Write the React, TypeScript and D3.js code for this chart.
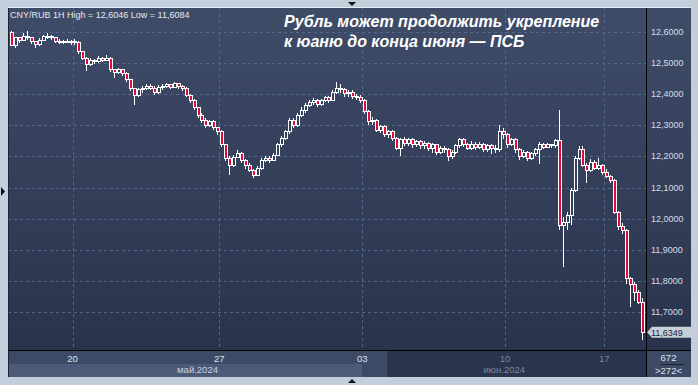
import React from "react";
import * as d3 from "d3";

const closes = [
  12.558, 12.581, 12.574, 12.587, 12.581, 12.568, 12.561, 12.574, 12.584, 12.587,
  12.581, 12.568, 12.571, 12.568, 12.571, 12.568, 12.565, 12.536, 12.516, 12.497,
  12.510, 12.504, 12.516, 12.510, 12.516, 12.478, 12.471, 12.478, 12.468, 12.446,
  12.420, 12.397, 12.414, 12.420, 12.426, 12.420, 12.407, 12.423, 12.426, 12.430,
  12.423, 12.433, 12.426, 12.420, 12.397, 12.381, 12.356, 12.333, 12.317, 12.301,
  12.311, 12.292, 12.279, 12.237, 12.195, 12.172, 12.198, 12.211, 12.188, 12.172,
  12.156, 12.140, 12.162, 12.188, 12.195, 12.188, 12.204, 12.237, 12.259, 12.279,
  12.317, 12.301, 12.333, 12.349, 12.365, 12.372, 12.381, 12.368, 12.381, 12.388,
  12.381, 12.407, 12.420, 12.414, 12.401, 12.407, 12.394, 12.391, 12.381, 12.343,
  12.311, 12.317, 12.285, 12.295, 12.269, 12.279, 12.259, 12.227, 12.253, 12.243,
  12.253, 12.237, 12.247, 12.234, 12.243, 12.227, 12.237, 12.214, 12.227, 12.221,
  12.201, 12.214, 12.234, 12.253, 12.237, 12.227, 12.240, 12.230, 12.237, 12.221,
  12.234, 12.227, 12.221, 12.279, 12.269, 12.237, 12.253, 12.221, 12.201, 12.214,
  12.195, 12.208, 12.221, 12.237, 12.230, 12.237, 12.234, 12.250, 11.979, 11.989,
  12.011, 12.092, 12.195, 12.221, 12.172, 12.156, 12.182, 12.162, 12.172, 12.150,
  12.137, 12.124, 12.021, 11.976, 11.963, 11.809, 11.787, 11.764, 11.732, 11.6349,
];

const highs = [
  12.6046, 12.585, 12.583, 12.596, 12.603, 12.585, 12.572, 12.580, 12.590, 12.598,
  12.590, 12.584, 12.577, 12.574, 12.576, 12.574, 12.577, 12.570, 12.540, 12.520,
  12.516, 12.513, 12.522, 12.520, 12.525, 12.520, 12.480, 12.485, 12.482, 12.472,
  12.450, 12.420, 12.420, 12.426, 12.433, 12.432, 12.425, 12.430, 12.434, 12.436,
  12.434, 12.440, 12.436, 12.430, 12.422, 12.400, 12.385, 12.360, 12.340, 12.322,
  12.318, 12.316, 12.295, 12.285, 12.240, 12.200, 12.205, 12.220, 12.215, 12.192,
  12.178, 12.160, 12.168, 12.194, 12.203, 12.200, 12.210, 12.242, 12.266, 12.285,
  12.324, 12.325, 12.340, 12.358, 12.372, 12.380, 12.388, 12.384, 12.386, 12.394,
  12.395, 12.412, 12.440, 12.432, 12.420, 12.415, 12.412, 12.400, 12.398, 12.386,
  12.348, 12.326, 12.320, 12.302, 12.300, 12.285, 12.284, 12.262, 12.258, 12.262,
  12.260, 12.258, 12.254, 12.252, 12.250, 12.248, 12.242, 12.240, 12.232, 12.234,
  12.226, 12.220, 12.240, 12.260, 12.258, 12.244, 12.250, 12.248, 12.246, 12.242,
  12.240, 12.240, 12.236, 12.300, 12.290, 12.275, 12.260, 12.258, 12.226, 12.220,
  12.218, 12.214, 12.228, 12.245, 12.242, 12.242, 12.240, 12.256, 12.349, 12.005,
  12.020, 12.100, 12.200, 12.235, 12.232, 12.180, 12.192, 12.190, 12.195, 12.176,
  12.160, 12.140, 12.128, 12.025, 11.985, 11.966, 11.812, 11.795, 11.770, 11.745,
];

const lows = [
  12.555, 12.550, 12.565, 12.570, 12.575, 12.560, 12.549, 12.556, 12.570, 12.578,
  12.575, 12.564, 12.561, 12.563, 12.565, 12.558, 12.558, 12.530, 12.510, 12.475,
  12.490, 12.498, 12.500, 12.504, 12.506, 12.470, 12.452, 12.465, 12.460, 12.440,
  12.410, 12.365, 12.390, 12.405, 12.412, 12.412, 12.397, 12.400, 12.415, 12.420,
  12.418, 12.420, 12.418, 12.410, 12.390, 12.372, 12.350, 12.325, 12.308, 12.292,
  12.295, 12.285, 12.270, 12.230, 12.185, 12.140, 12.165, 12.195, 12.180, 12.160,
  12.150, 12.132, 12.136, 12.158, 12.183, 12.180, 12.185, 12.200, 12.230, 12.252,
  12.272, 12.292, 12.295, 12.328, 12.340, 12.358, 12.365, 12.360, 12.362, 12.375,
  12.372, 12.378, 12.402, 12.404, 12.392, 12.392, 12.385, 12.380, 12.372, 12.335,
  12.300, 12.300, 12.278, 12.275, 12.262, 12.260, 12.250, 12.220, 12.200, 12.235,
  12.232, 12.228, 12.230, 12.225, 12.225, 12.218, 12.210, 12.205, 12.208, 12.210,
  12.185, 12.192, 12.208, 12.228, 12.230, 12.220, 12.222, 12.222, 12.225, 12.214,
  12.215, 12.208, 12.212, 12.215, 12.255, 12.228, 12.232, 12.212, 12.190, 12.195,
  12.186, 12.188, 12.200, 12.175, 12.225, 12.226, 12.228, 12.228, 11.965, 11.845,
  11.965, 11.980, 12.085, 12.190, 12.165, 12.115, 12.150, 12.155, 12.158, 12.140,
  12.130, 12.115, 12.015, 11.965, 11.950, 11.790, 11.716, 11.735, 11.725, 11.6084,
];

const firstOpen = 12.6;

const yTicks = [12.6, 12.5, 12.4, 12.3, 12.2, 12.1, 12.0, 11.9, 11.8, 11.7];
const dateLabels = ["20", "27", "03", "10", "17"];
const dateIdx = [15.5, 52.5, 88.5, 124.5, 149.5];
const monthLabels = ["май.2024", "июн.2024"];
const monthIdx = [47, 124.3];
const headerText = "CNY/RUB 1H High = 12,6046 Low = 11,6084";
const titleLines = ["Рубль может продолжить укрепление", "к юаню до конца июня — ПСБ"];
const lastPrice = 11.6349;
const barsTotal = "672";
const barsVisible = ">272<";

const W = 698;
const H = 385;
const PL = 8;
const PR = 646;
const PT = 8;
const PB = 351;
const AXR = 691;
const BB = 377;

const FONT = "'Liberation Sans', Arial, sans-serif";
const RED = "#e3093f";

export default function App() {
  const x = d3.scaleLinear().domain([0, closes.length - 1]).range([11, 642]);
  const y = d3.scaleLinear().domain([11.7, 12.6]).range([312, 32]);
  const fmt = (v: number) => d3.format(".4f")(v).replace(".", ",");

  const candles = closes.map((c, i) => {
    const o = i === 0 ? firstOpen : closes[i - 1];
    return { o, c, h: highs[i], l: lows[i], i };
  });

  const split1 = (x(dateIdx[2]) + x(dateIdx[2] + 1)) / 2 - 2; // ~362
  const split2 = x(94.5); // ~386

  return (
    <svg
      width={W}
      height={H}
      style={{ position: "absolute", left: 0, top: 0, display: "block" }}
      fontFamily={FONT}
    >
      <defs>
        <linearGradient id="bg" x1="0" y1="0" x2="0" y2="1">
          <stop offset="0" stopColor="#3f4c68" />
          <stop offset="1" stopColor="#29334c" />
        </linearGradient>
        <clipPath id="plotClip">
          <rect x={PL} y={PT} width={PR - PL} height={PB - PT} />
        </clipPath>
      </defs>
      <rect x={0} y={0} width={W} height={H} fill="#c3cedc" />
      {/* plot + right axis background */}
      <rect x={PL} y={PT} width={AXR - PL} height={PB - PT} fill="url(#bg)" />
      {/* bottom axis */}
      <rect x={PL} y={PB} width={PR - PL} height={BB - PB} fill="#2a344e" />
      <rect x={PL} y={PB} width={split2 - PL} height={13} fill="#3d4a66" />
      <rect x={PL} y={PB + 13} width={split2 - PL} height={BB - PB - 13} fill="#3d4a66" />
      <rect x={PL} y={PB + 13} width={split1 - PL} height={BB - PB - 13} fill="#4b5a76" />
      <line x1={split2 + 0.5} x2={split2 + 0.5} y1={PB} y2={BB} stroke="#46536e" />
      <rect x={PR} y={PB} width={AXR - PR} height={BB - PB} fill="#3d4a66" />

      {/* grid */}
      <g stroke="#56658a" strokeWidth={1} strokeDasharray="3,3" shapeRendering="crispEdges">
        {yTicks.map((t) => (
          <line key={"h" + t} x1={PL} x2={PR} y1={Math.round(y(t)) + 0.5} y2={Math.round(y(t)) + 0.5} />
        ))}
        {dateIdx.map((d) => (
          <line key={"v" + d} x1={Math.round(x(d)) + 0.5} x2={Math.round(x(d)) + 0.5} y1={PT} y2={PB} />
        ))}
      </g>

      {/* candles */}
      <g clipPath="url(#plotClip)" shapeRendering="crispEdges">
        {candles.map((d) => {
          const cx = Math.round(x(d.i));
          const top = y(Math.max(d.o, d.c));
          const bot = y(Math.min(d.o, d.c));
          const down = d.c < d.o;
          return (
            <g key={d.i}>
              <line x1={cx + 0.5} x2={cx + 0.5} y1={y(d.h)} y2={y(d.l)} stroke="#ffffff" strokeWidth={1} />
              <rect
                x={cx - 1}
                y={top}
                width={3}
                height={Math.max(1, bot - top)}
                fill={down ? RED : "#34405a"}
                stroke="#ffffff"
                strokeWidth={1}
              />
            </g>
          );
        })}
      </g>

      {/* axis frame lines */}
      <line x1={PL + 0.5} x2={PL + 0.5} y1={PT} y2={BB} stroke="#1c2333" />
      <line x1={PL} x2={AXR} y1={PT - 0.5} y2={PT - 0.5} stroke="#e6ecf3" />
      <line x1={PR + 0.5} x2={PR + 0.5} y1={PT} y2={BB} stroke="#000000" />
      <line x1={PL} x2={AXR} y1={PB - 0.5} y2={PB - 0.5} stroke="#000000" />

      {/* right axis labels */}
      {yTicks.map((t) => (
        <text key={"t" + t} x={651} y={y(t) + 3} fontSize={9} fill="#d4deea">
          {fmt(t)}
        </text>
      ))}

      {/* last price tag */}
      <path
        d={`M${PR + 1},${y(lastPrice)} L${PR + 6},${y(lastPrice) - 5.5} L${AXR + 3},${y(lastPrice) - 5.5} L${AXR + 3},${y(lastPrice) + 5.5} L${PR + 6},${y(lastPrice) + 5.5} Z`}
        fill="#c8ced8"
      />
      <text x={651} y={y(lastPrice) + 3.5} fontSize={9} fill="#1e2638">
        {fmt(lastPrice)}
      </text>

      {/* bottom axis labels */}
      {dateLabels.map((lab, k) => (
        <text
          key={lab}
          x={x(dateIdx[k])}
          y={362}
          fontSize={9.5}
          textAnchor="middle"
          fill={k < 3 ? "#dbe3ee" : "#7b879e"}
        >
          {lab}
        </text>
      ))}
      {monthLabels.map((lab, k) => (
        <text
          key={lab}
          x={x(monthIdx[k])}
          y={372.5}
          fontSize={9.5}
          textAnchor="middle"
          fill={k === 0 ? "#c9d3e0" : "#7b879e"}
        >
          {lab}
        </text>
      ))}
      <text x={(PR + AXR) / 2} y={361} fontSize={9.5} textAnchor="middle" fill="#dbe3ee">
        {barsTotal}
      </text>
      <line x1={661} x2={684} y1={364.5} y2={364.5} stroke="#1c2333" />
      <text x={(PR + AXR) / 2} y={374} fontSize={9.5} textAnchor="middle" fill="#dbe3ee">
        {barsVisible}
      </text>

      {/* header */}
      <text x={10} y={18} fontSize={9} fill="#e2e8f0">
        {headerText}
      </text>
      {titleLines.map((t, k) => (
        <text
          key={k}
          x={284}
          y={27 + k * 20}
          fontSize={16}
          fontWeight="bold"
          fontStyle="italic"
          fill="#ffffff"
        >
          {t}
        </text>
      ))}

      {/* markers */}
      <path d="M348,2 L356,2 L352,6 Z" fill="#111" />
      <path d="M348,383 L356,383 L352,379 Z" fill="#111" />
      <path d="M1,187 L5,191.5 L1,196 Z" fill="#111" />
    </svg>
  );
}
